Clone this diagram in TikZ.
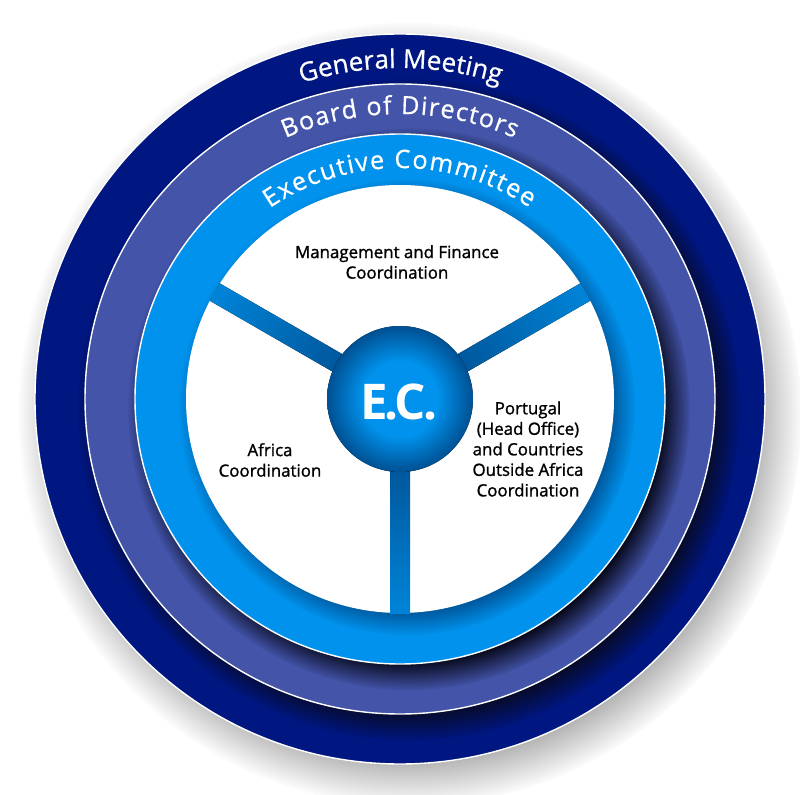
\documentclass[tikz,border=0pt]{standalone}
\usepackage{fontspec}
\setmainfont{Open Sans}
\newfontfamily\semifont{Open Sans}[FakeBold=1.3]
\newfontfamily\ringfont{Open Sans}[FakeBold=0.7]
\usetikzlibrary{decorations.text,fadings}

\definecolor{gmnavy}{RGB}{0,22,128}
\definecolor{bodblue}{RGB}{67,84,169}
\definecolor{ecblue}{RGB}{0,146,236}
\definecolor{hubrim}{RGB}{0,80,146}
\definecolor{spokedark}{RGB}{0,84,152}
\definecolor{spokelight}{RGB}{0,132,216}
\definecolor{ringshade}{RGB}{8,10,28}

\pgfdeclareradialshading{blurshade}{\pgfpointorigin}{color(0bp)=(white); color(22.4bp)=(white); color(25bp)=(black); color(50bp)=(black)}
\pgfdeclarefading{blurfade}{\pgfuseshading{blurshade}}
\pgfdeclareradialshading{softshade}{\pgfpointorigin}{color(0bp)=(white); color(20.5bp)=(white); color(25bp)=(black); color(50bp)=(black)}
\pgfdeclarefading{softfade}{\pgfuseshading{softshade}}
\pgfdeclareradialshading{hubshade}{\pgfpointorigin}{color(0bp)=(ecblue); color(13bp)=(ecblue); color(25bp)=(hubrim); color(50bp)=(hubrim)}

% radius : start : end : size : text
\def\ringtext(#1:#2:#3:#4:#5){\path[decorate, decoration={text along path, text align=fit to path, text color=white, text={|\ringfont\fontsize{#4}{#4}\selectfont|#5}}] (#2:#1) arc (#2:#3:#1);}

\tikzset{
	ring/.style={draw=white, line width=1pt},
	ringshadow/.style={fill=ringshade, path fading=blurfade},
	spoke/.style={left color=spokedark, right color=spokelight},
	inner/.style={align=center, inner sep=0pt, text=black, font=\semifont\fontsize{12}{14.6}\selectfont},
	ectext/.style={inner sep=0pt, text=white, font=\bfseries\fontsize{35}{40}\selectfont}
}

\begin{document}
\begin{tikzpicture}[x=0.025cm, y=0.025cm]
			%%%%% START %%%%%
			\useasboundingbox (-400,-395) rectangle (400,399);
			
			% general meeting
			\fill[black!60, path fading=softfade, fill opacity=0.75] (10,-15) circle (392);
			\filldraw[ring, fill=gmnavy] (0,0) circle (365);
			
			% board of directors
			\fill[ringshadow] (9,-10) circle (331);
			\filldraw[ring, fill=bodblue] (0,0) circle (315);
			
			% executive committee
			\fill[ringshadow] (9,-10) circle (281);
			\filldraw[ring, fill=ecblue] (0,0) circle (265);
			
			\fill[hubrim, path fading=blurfade, fill opacity=0.85] (7,-8) circle (228);
			\fill[white] (0,0) circle (214);
			
			\foreach \a in {30,150,270}
				\fill[spoke, transform canvas={rotate=\a}] (60,-10) rectangle (214,10);
			
			\fill[shading=hubshade] (0,0) circle (73);
			
			\ringtext(331:107.3:72.7:18.5:General Meeting)
			\ringtext(285:113.7:66.3:17.8:Board of Directors)
			\ringtext(231:124.3:56:18:Executive Committee)
			
			\node[ectext] (ec) at (-1,-3) {E\kern-3pt.\kern-2.5pt C\kern-2pt.};
			\node[inner] (mgmt) at (-3,137) {Management and Finance\\Coordination};
			\node[inner] (africa) at (-130,-61) {Africa\\Coordination};
			\node[inner] (portugal) at (128,-50) {Portugal\\(Head Office)\\and Countries\\Outside Africa\\Coordination};
			
			%%%%% END %%%%%
\end{tikzpicture}
\end{document}
